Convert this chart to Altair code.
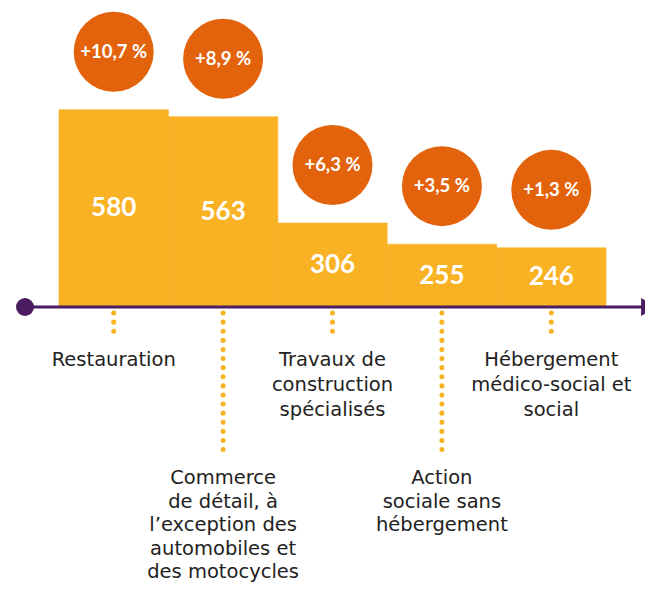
import altair as alt
import pandas as pd

# ---- data -------------------------------------------------------------
categories = ["Restauration", "Commerce", "Travaux", "Action", "Hébergement"]
labels = [
    "Restauration",
    "Commerce|de détail, à|l’exception des|automobiles et|des motocycles",
    "Travaux de|construction|spécialisés",
    "Action|sociale sans|hébergement",
    "Hébergement|médico-social et|social",
]
values = [580, 563, 306, 255, 246]
growth = ["+10,7 %", "+8,9 %", "+6,3 %", "+3,5 %", "+1,3 %"]

# ---- style ------------------------------------------------------------
YELLOW = "#F9B224"
ORANGE = "#E3630D"
PURPLE = "#4B1C5F"
TEXT = "#222222"
FONT_NUM = "Lato"
FONT_LABEL = "DejaVu Sans"
FLOOR = 103  # value at the baseline of the (non-zero) value scale

df = pd.DataFrame({"cat": categories, "label": labels, "value": values, "growth": growth})

base = alt.Chart(df).transform_window(
    idx="row_number()"
).transform_calculate(
    level="(datum.idx + 1) % 2",
    mid=f"(datum.value + {FLOOR}) / 2",
    lines="split(datum.label, '|')",
)

xenc = alt.X("cat:N", sort=categories, axis=None,
             scale=alt.Scale(range=[51, 598], paddingInner=0, paddingOuter=0))
yscale = alt.Scale(domain=[FLOOR, 826], range=[299, 0], zero=False, nice=False)
yenc = alt.Y("value:Q", scale=yscale, axis=None)

bars = base.mark_bar(color=YELLOW, stroke=YELLOW, strokeWidth=0.6).encode(
    x=xenc, y=yenc, y2=alt.datum(FLOOR)
)

circles = base.mark_circle(size=6400, color=ORANGE, opacity=1, yOffset=-58).encode(
    x=xenc, y=yenc
)
pct = base.mark_text(yOffset=-58, fontSize=18.5, fontWeight="bold", color="white",
                     font=FONT_NUM, baseline="middle", align="center").encode(
    x=xenc, y=yenc, text="growth:N"
)
vals = base.mark_text(fontSize=26, fontWeight="bold", color="white", font=FONT_NUM,
                      baseline="middle", align="center").encode(
    x=xenc, y=alt.Y("mid:Q", scale=yscale, axis=None), text=alt.Text("value:Q")
)

one = alt.Chart(pd.DataFrame({"k": [0]}))
axis_line = one.mark_rule(color=PURPLE, strokeWidth=3).encode(
    x=alt.value(17), x2=alt.value(637), y=alt.datum(FLOOR)
)
axis_dot = one.mark_circle(size=324, color=PURPLE, opacity=1).encode(
    x=alt.value(17), y=alt.datum(FLOOR)
)
axis_arrow = one.mark_point(shape="triangle-right", filled=True, size=330, color=PURPLE,
                            opacity=1).encode(
    x=alt.value(641), y=alt.datum(FLOOR)
)


def level_layers(level, rule_end, text_top, line_h):
    sub = base.transform_filter(f"datum.level == {level}")
    dots = sub.mark_rule(color=YELLOW, strokeWidth=5, strokeCap="round",
                         strokeDash=[0.1, 9], yOffset=6, y2Offset=rule_end).encode(
        x=xenc, y=alt.datum(FLOOR), y2=alt.datum(FLOOR)
    )
    txt = sub.mark_text(fontSize=19.5, font=FONT_LABEL, color=TEXT, align="center",
                        baseline="top", lineHeight=line_h, yOffset=text_top).encode(
        x=xenc, y=alt.datum(FLOOR), text="lines:N"
    )
    return [dots, txt]


layers = [bars, circles, pct, vals, axis_line, axis_dot, axis_arrow]
layers += level_layers(0, 32, 44, 25)
layers += level_layers(1, 147, 162, 23.5)

chart = alt.layer(*layers).properties(
    width=637, height=578, padding=0, autosize=alt.AutoSizeParams(type="none")
).configure_view(stroke=None)

chart.save("out.html", embed_options={"renderer": "svg", "actions": False})
